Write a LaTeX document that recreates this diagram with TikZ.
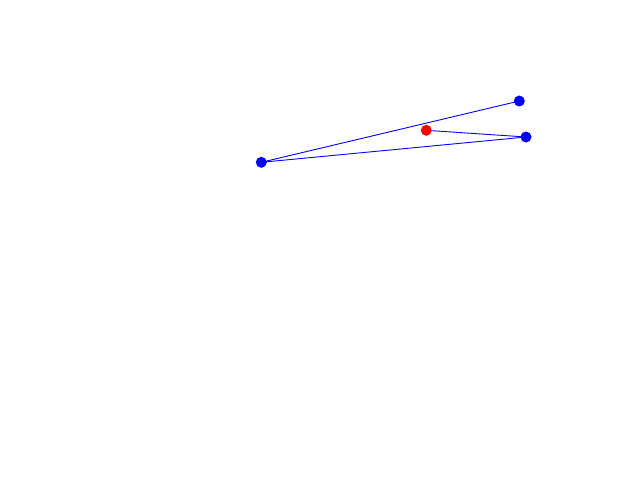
\documentclass[tikz,border=0pt]{standalone}
\begin{document}
\begin{tikzpicture}[x=1pt,y=-1pt,
  edge/.style={draw={rgb,255:red,0;green,0;blue,255},line width=0.9pt},
  bdot/.style={circle,fill={rgb,255:red,0;green,0;blue,255},inner sep=0pt,minimum size=11pt},
  rdot/.style={circle,fill={rgb,255:red,255;green,0;blue,0},inner sep=0pt,minimum size=11pt}]
\useasboundingbox (0,0) rectangle (640,480);
\coordinate (a) at (261.3,162.3);
\coordinate (b) at (519.3,101);
\coordinate (c) at (526,137);
\coordinate (r) at (426.3,130.3);
\draw[edge] (a) -- (b);
\draw[edge] (a) -- (c);
\draw[edge] (r) -- (c);
\node[bdot] (na) at (a) {};
\node[bdot] (nb) at (b) {};
\node[bdot] (nc) at (c) {};
\node[rdot] (nr) at (r) {};
\end{tikzpicture}
\end{document}
